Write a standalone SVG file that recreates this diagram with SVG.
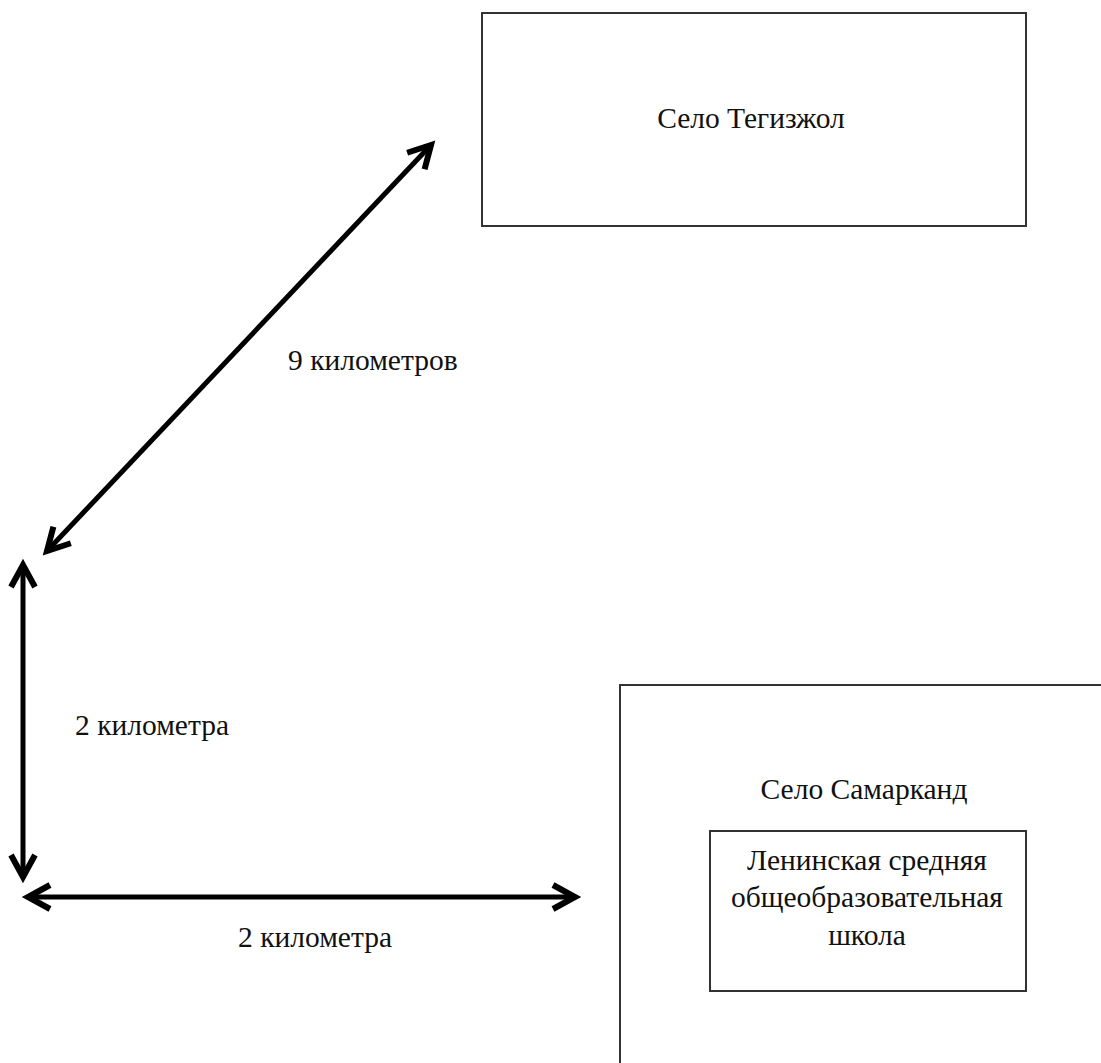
<svg xmlns="http://www.w3.org/2000/svg" width="1101" height="1063" viewBox="0 0 1101 1063">
<style>
.box{fill:#fff;stroke:#333;stroke-width:2}
text{font-family:'Liberation Serif','Times New Roman',Times,serif;font-size:29.5px;fill:#111}
.t{text-anchor:middle}
.c{stroke:#000;stroke-width:5;fill:none}
</style>
<defs>
<marker id="ah" markerUnits="userSpaceOnUse" viewBox="-26 -14 30 28" refX="0" refY="0" markerWidth="30" markerHeight="28" orient="auto-start-reverse" overflow="visible">
<path d="M-22,-12 L0,0 L-22,12" fill="none" stroke="#000" stroke-width="6" stroke-linejoin="miter" stroke-miterlimit="10"/>
</marker>
</defs>
<rect width="1101" height="1063" fill="#fff"/>
<g id="tegizhol">
<rect class="box" x="482" y="13" width="544" height="213"/>
<text class="t" x="751" y="128">Село Тегизжол</text>
</g>
<g id="samarkand">
<path class="box" d="M620,1070 L620,685 L1110,685"/>
<text class="t" x="864" y="799">Село Самарканд</text>
</g>
<g id="school">
<rect class="box" x="710" y="831" width="316" height="160"/>
<text class="t" x="867" y="870">Ленинская средняя</text>
<text class="t" x="867" y="907">общеобразовательная</text>
<text class="t" x="867" y="945">школа</text>
</g>
<g id="connectors">
<line class="c" x1="47" y1="551" x2="431" y2="145" marker-start="url(#ah)" marker-end="url(#ah)"/>
<line class="c" x1="23" y1="565" x2="23" y2="877" marker-start="url(#ah)" marker-end="url(#ah)"/>
<line class="c" x1="28" y1="897" x2="575" y2="897" marker-start="url(#ah)" marker-end="url(#ah)"/>
</g>
<g id="labels">
<text x="288" y="370">9 километров</text>
<text x="75" y="735">2 километра</text>
<text x="238" y="947">2 километра</text>
</g>
</svg>
